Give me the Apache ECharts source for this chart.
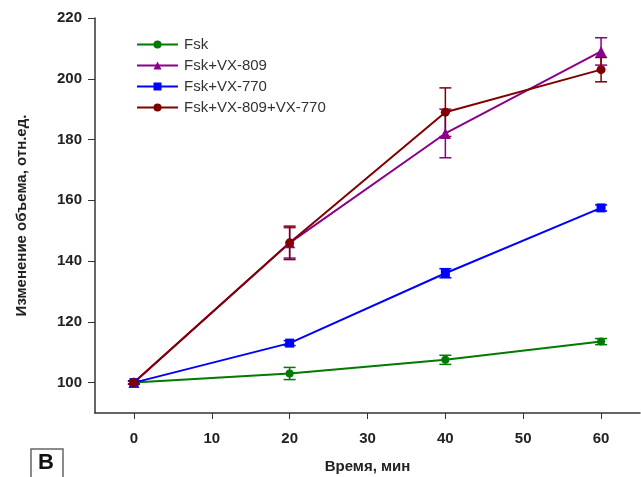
<!DOCTYPE html>
<html>
<head>
<meta charset="utf-8">
<script src="https://cdn.jsdelivr.net/npm/echarts@6/dist/echarts.min.js"></script>
<style>
  html, body { margin: 0; padding: 0; background: #fff; }
  #chart { width: 641px; height: 477px; }
</style>
</head>
<body>
<div id="chart"></div>
<script>
// время, мин
const times = [0, 20, 40, 60]
const xTicks = [0, 10, 20, 30, 40, 50, 60]
const yTicks = [100, 120, 140, 160, 180, 200, 220]

// изменение объема и ошибки
const fsk = [100, 103, 107.5, 113.5]
const fskErr = [0.5, 2, 1.5, 1]
const vx809 = [100, 146, 182, 209]
const vx809Err = [0.5, 5, 8, 4.5]
const vx770 = [100, 113, 136, 157.5]
const vx770Err = [0.5, 0.8, 1.5, 1]
const vxBoth = [100, 146, 189, 203]
const vxBothErr = [0.5, 5.5, 8, 4]

const seriesDefs = [
  { name: 'Fsk', values: fsk, errs: fskErr, color: '#007a00', symbol: 'circle', size: 8 },
  { name: 'Fsk+VX-809', values: vx809, errs: vx809Err, color: '#8a008a', symbol: 'triangle', size: 11 },
  { name: 'Fsk+VX-770', values: vx770, errs: vx770Err, color: '#0000ff', symbol: 'rect', size: 9 },
  { name: 'Fsk+VX-809+VX-770', values: vxBoth, errs: vxBothErr, color: '#800000', symbol: 'circle', size: 9 }
]

const chart = echarts.init(document.getElementById('chart'))

// усы ошибок
const errorSeries = seriesDefs.map(s => ({
  type: 'custom',
  name: s.name + ' err',
  z: 1,
  silent: true,
  data: times.map((t, i) => [t, s.values[i] - s.errs[i], s.values[i] + s.errs[i]]),
  renderItem: (params, api) => {
    const lo = api.coord([api.value(0), api.value(1)])
    const hi = api.coord([api.value(0), api.value(2)])
    const w = 6
    const style = { stroke: s.color, lineWidth: 1.5, fill: null }
    return {
      type: 'group',
      children: [
        { type: 'line', shape: { x1: lo[0], y1: lo[1], x2: hi[0], y2: hi[1] }, style },
        { type: 'line', shape: { x1: lo[0] - w, y1: lo[1], x2: lo[0] + w, y2: lo[1] }, style },
        { type: 'line', shape: { x1: hi[0] - w, y1: hi[1], x2: hi[0] + w, y2: hi[1] }, style }
      ]
    }
  }
}))

const lineSeries = seriesDefs.map(s => ({
  type: 'line',
  name: s.name,
  z: 3,
  data: times.map((t, i) => [t, s.values[i]]),
  symbol: s.symbol,
  symbolSize: s.size,
  showAllSymbol: true,
  color: s.color,
  lineStyle: { color: s.color, width: 2 },
  itemStyle: { color: s.color },
  emphasis: { disabled: true }
}))

const labelFont = { fontFamily: 'Liberation Sans, Arial, sans-serif', fontWeight: 'bold', fontSize: 15, color: '#222' }

chart.setOption({
  animation: false,
  grid: { left: 95, right: 1, top: 18, bottom: 64, outerBoundsMode: 'none' },
  legend: {
    data: seriesDefs.map(s => s.name),
    orient: 'vertical',
    left: 131,
    top: 32,
    itemWidth: 41,
    itemHeight: 10,
    itemGap: 6,
    textStyle: { fontFamily: 'Liberation Sans, Arial, sans-serif', fontSize: 15, color: '#333', padding: [0, 0, 0, 1] }
  },
  xAxis: {
    type: 'value',
    min: -5,
    max: 65,
    name: 'Время, мин',
    nameLocation: 'middle',
    nameGap: 46,
    nameTextStyle: { ...labelFont },
    axisLine: { lineStyle: { color: '#333', width: 1.5 } },
    axisTick: { customValues: xTicks, length: 6, lineStyle: { color: '#333' } },
    axisLabel: { customValues: xTicks, margin: 18, ...labelFont },
    splitLine: { show: false }
  },
  yAxis: {
    type: 'value',
    min: 90,
    max: 220,
    name: 'Изменение объема, отн.ед.',
    nameLocation: 'middle',
    nameGap: 66,
    nameTextStyle: { ...labelFont },
    axisLine: { show: true, onZero: false, lineStyle: { color: '#333', width: 1.5 } },
    axisTick: { show: true, customValues: yTicks, length: 7, lineStyle: { color: '#333' } },
    axisLabel: { customValues: yTicks, margin: 13, ...labelFont },
    splitLine: { show: false }
  },
  graphic: [
    {
      type: 'rect',
      shape: { x: 31, y: 449, width: 32, height: 30 },
      style: { fill: '#fff', stroke: '#666', lineWidth: 1.5 }
    },
    {
      type: 'text',
      left: 38,
      top: 452,
      style: { text: 'В', fontFamily: 'Liberation Sans, Arial, sans-serif', fontWeight: 'bold', fontSize: 22, fill: '#111' }
    }
  ],
  series: [...lineSeries, ...errorSeries]
})
</script>
</body>
</html>
